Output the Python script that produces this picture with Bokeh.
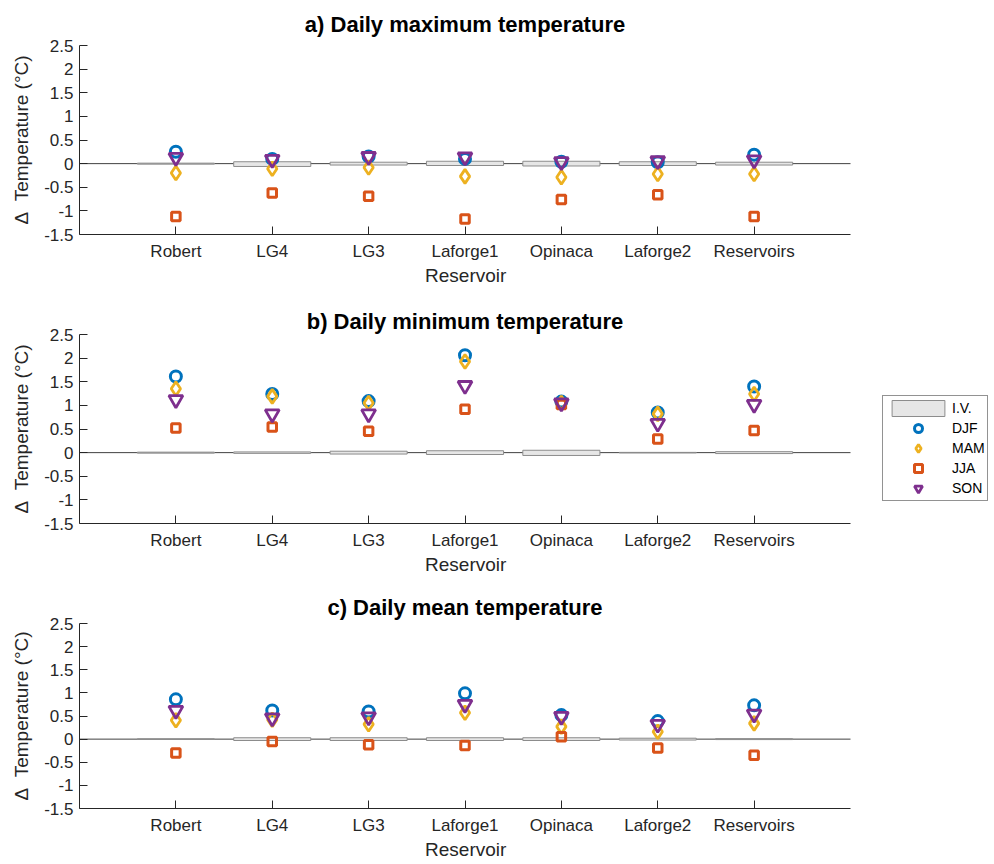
from bokeh.plotting import figure
from bokeh.layouts import column
from bokeh.models import (FixedTicker, Legend, LegendItem, Range1d,
                          NumeralTickFormatter)
from bokeh.embed import file_html
from bokeh.resources import INLINE

# ---------------- data ----------------
reservoirs = ["Robert", "LG4", "LG3", "Laforge1", "Opinaca", "Laforge2", "Reservoirs"]
xpos = [1, 2, 3, 4, 5, 6, 7]
xlim = (0, 8)
ylim = (-1.5, 2.5)
yticks = [-1.5, -1, -0.5, 0, 0.5, 1, 1.5, 2, 2.5]

# a) Daily maximum temperature
tmax_djf = [0.25, 0.10, 0.15, 0.10, 0.04, 0.03, 0.19]
tmax_mam = [-0.20, -0.11, -0.08, -0.27, -0.29, -0.22, -0.22]
tmax_jja = [-1.12, -0.62, -0.69, -1.17, -0.76, -0.66, -1.12]
tmax_son = [0.13, 0.09, 0.15, 0.14, 0.04, 0.06, 0.08]
tmax_iv_low = [-0.01, -0.06, -0.03, -0.04, -0.05, -0.04, -0.03]
tmax_iv_high = [0.01, 0.04, 0.03, 0.05, 0.05, 0.04, 0.03]

# b) Daily minimum temperature
tmin_djf = [1.61, 1.24, 1.09, 2.06, 1.08, 0.85, 1.40]
tmin_mam = [1.35, 1.19, 1.05, 1.93, 1.05, 0.82, 1.24]
tmin_jja = [0.52, 0.54, 0.45, 0.92, 1.02, 0.29, 0.47]
tmin_son = [1.12, 0.82, 0.82, 1.42, 1.05, 0.62, 1.02]
tmin_iv_low = [-0.01, -0.015, -0.03, -0.04, -0.06, -0.005, -0.02]
tmin_iv_high = [0.01, 0.015, 0.03, 0.04, 0.05, 0.005, 0.02]

# c) Daily mean temperature
tmean_djf = [0.86, 0.62, 0.60, 0.99, 0.52, 0.39, 0.73]
tmean_mam = [0.41, 0.42, 0.32, 0.57, 0.27, 0.16, 0.34]
tmean_jja = [-0.30, -0.05, -0.12, -0.14, 0.05, -0.19, -0.35]
tmean_son = [0.62, 0.46, 0.48, 0.75, 0.49, 0.32, 0.54]
tmean_iv_low = [-0.005, -0.03, -0.03, -0.03, -0.03, -0.02, -0.01]
tmean_iv_high = [0.005, 0.03, 0.03, 0.03, 0.03, 0.02, 0.01]

C_DJF = "#0072BD"
C_MAM = "#EDB120"
C_JJA = "#D95319"
C_SON = "#7E2F8E"
AX = "#262626"
FONT = "Liberation Sans"

LEFT = 79          # left border (px)
AXIS_W = 771       # width of the drawn axes (px)
TOTAL_W = 994
BOTTOM = 56        # bottom border (px)
NB = "\u00a0"
TITLE_PX = 22

FRAME_W = TOTAL_W - LEFT
X_END = xlim[0] + FRAME_W * (xlim[1] - xlim[0]) / AXIS_W   # frame reaches page edge


def make_panel(title, title_em, djf, mam, jja, son, lo, hi, height, top, standoff,
               legend=False):
    p = figure(width=TOTAL_W, height=height, x_range=Range1d(xlim[0], X_END),
               y_range=Range1d(*ylim), output_backend="svg", toolbar_location=None,
               min_border_left=LEFT, min_border_right=0,
               min_border_top=top, min_border_bottom=BOTTOM,
               background_fill_color="white", border_fill_color="white",
               title=title)
    p.outline_line_color = None
    p.xgrid.visible = False
    p.ygrid.visible = False

    # title centred over the axes (the frame is wider than the axes)
    p.title.align = "left"
    p.title.offset = AXIS_W / 2 - title_em * TITLE_PX / 2
    p.title.standoff = standoff
    p.title.text_font = FONT
    p.title.text_font_size = f"{TITLE_PX}px"
    p.title.text_font_style = "bold"
    p.title.text_color = "#000000"

    # zero reference line across the axes
    p.line(x=list(xlim), y=[0, 0], line_color="#404040", line_width=1)

    iv = p.vbar(x=xpos, width=0.8, bottom=lo, top=hi, fill_color="#e6e6e6",
                line_color="#8c8c8c", line_width=1)
    r_djf = p.scatter(xpos, djf, marker="circle", size=11, fill_color=None,
                      line_color=C_DJF, line_width=3)
    r_mam = p.scatter(xpos, mam, marker="diamond", size=14, fill_color=None,
                      line_color=C_MAM, line_width=2.8)
    r_jja = p.scatter(xpos, jja, marker="square", size=8.5, fill_color=None,
                      line_color=C_JJA, line_width=3)
    r_son = p.scatter(xpos, son, marker="inverted_triangle", size=14, fill_color=None,
                      line_color=C_SON, line_width=2.8)

    xa = p.xaxis[0]
    ya = p.yaxis[0]
    xa.ticker = FixedTicker(ticks=xpos)
    xa.major_label_overrides = {x: name for x, name in zip(xpos, reservoirs)}
    xa.bounds = xlim
    ya.ticker = FixedTicker(ticks=yticks)
    ya.formatter = NumeralTickFormatter(format="0.[0]")
    for ax in (xa, ya):
        ax.axis_line_color = AX
        ax.major_tick_line_color = AX
        ax.minor_tick_line_color = None
        ax.major_tick_in = 8
        ax.major_tick_out = 0
        ax.major_label_text_font = FONT
        ax.major_label_text_font_size = "17px"
        ax.major_label_text_color = AX
        ax.axis_label_text_font = FONT
        ax.axis_label_text_font_size = "19px"
        ax.axis_label_text_font_style = "normal"
        ax.axis_label_text_color = AX
    # the x label is centred on the whole (wider) frame; trailing no-break
    # spaces re-centre the visible word under the axes
    xa.axis_label = "Reservoir" + NB * 27
    xa.major_label_standoff = 7
    xa.axis_label_standoff = 1
    ya.axis_label = "\u0394" + NB * 2 + "Temperature (\u00b0C)"
    ya.major_label_standoff = 6
    ya.axis_label_standoff = 9

    if legend:
        lg = Legend(items=[LegendItem(label="I.V.", renderers=[iv]),
                           LegendItem(label="DJF", renderers=[r_djf]),
                           LegendItem(label="MAM", renderers=[r_mam]),
                           LegendItem(label="JJA", renderers=[r_jja]),
                           LegendItem(label="SON", renderers=[r_son])],
                    location=(803, 22))
        lg.glyph_width = 66
        lg.glyph_height = 20
        lg.spacing = 0
        lg.padding = 2
        lg.margin = 0
        lg.label_standoff = 1
        lg.label_height = 12
        lg.label_text_font = FONT
        lg.label_text_font_size = "14px"
        lg.label_text_color = "#000000"
        lg.border_line_color = AX
        lg.border_line_width = 1
        lg.background_fill_color = "white"
        lg.background_fill_alpha = 1.0
        p.add_layout(lg)
    return p


pa = make_panel("a) Daily maximum temperature", 14.56, tmax_djf, tmax_mam, tmax_jja, tmax_son,
                tmax_iv_low, tmax_iv_high, height=290, top=45, standoff=18)
pb = make_panel("b) Daily minimum temperature", 14.39, tmin_djf, tmin_mam, tmin_jja, tmin_son,
                tmin_iv_low, tmin_iv_high, height=289, top=44, standoff=2, legend=True)
pc = make_panel("c) Daily mean temperature", 12.51, tmean_djf, tmean_mam, tmean_jja, tmean_son,
                tmean_iv_low, tmean_iv_high, height=285, top=44, standoff=8)

layout = column(pa, pb, pc, spacing=0)
open("out.html", "w").write(file_html(layout, INLINE))
